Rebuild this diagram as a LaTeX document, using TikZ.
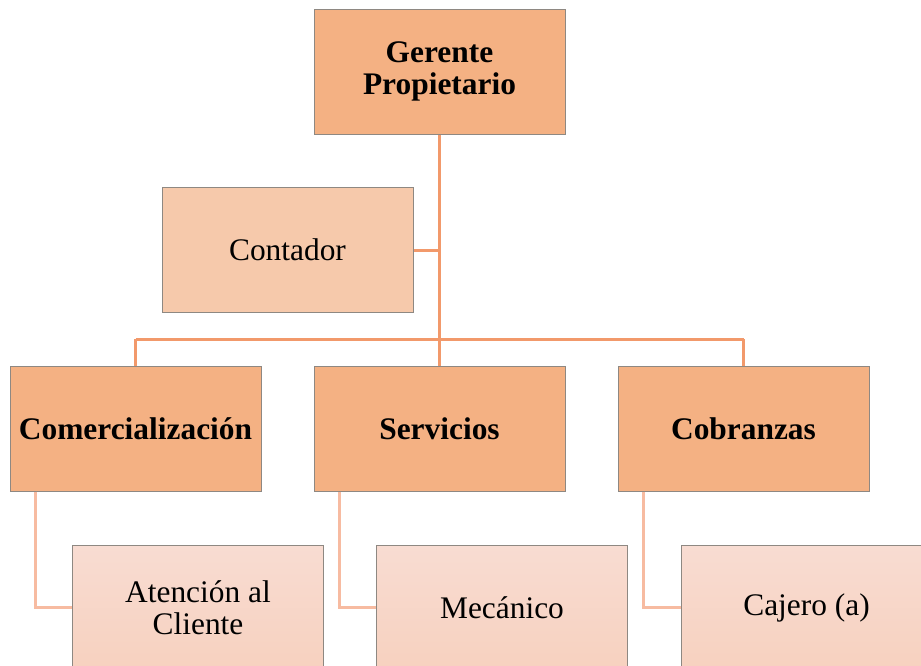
\documentclass[tikz,border=0pt]{standalone}
\usepackage{fontspec}
\setmainfont{Liberation Serif}
\usepackage{tikz}
\usetikzlibrary{calc}
\definecolor{jefe}{HTML}{F4B183}
\definecolor{staff}{HTML}{F6C9AB}
\definecolor{baseTop}{HTML}{F8DCD2}
\definecolor{baseBot}{HTML}{F7D1BF}
\definecolor{lineaA}{HTML}{F2996B}
\definecolor{lineaB}{HTML}{F7BBA1}
\definecolor{borde}{HTML}{8E8882}

\begin{document}
\begin{tikzpicture}[x=0.5pt, y=-0.5pt,
	caja/.style={draw=borde, line width=0.5pt, minimum width=125.5pt, minimum height=62.5pt,
		align=center, inner sep=2pt, font=\fontsize{15.7}{16}\selectfont},
	jefecaja/.style={caja, fill=jefe, font=\fontsize{15.7}{16}\selectfont\bfseries},
	staffcaja/.style={caja, fill=staff},
	basecaja/.style={caja, top color=baseTop, bottom color=baseBot},
	conA/.style={draw=lineaA, line width=1.5pt},
	conB/.style={draw=lineaB, line width=1.5pt}]
	\useasboundingbox (0,0) rectangle (921,665);
%	niveles
	\coordinate (bus) at (440,339);
	\node[jefecaja] (ger) at (439.5,71.5) {Gerente\\Propietario};
	\node[staffcaja] (cont) at (287.5,250) {Contador};
	\node[jefecaja] (com) at (135.5,428.5) {Comercializaci\'on};
	\node[jefecaja] (serv) at (439.5,428.5) {Servicios};
	\node[jefecaja] (cob) at (743.5,428.5) {Cobranzas};
	\node[basecaja] (aten) at (198,607.5) {Atenci\'on al\\Cliente};
	\node[basecaja] (mec) at (502,607.5) {Mec\'anico};
	\node[basecaja] (caj) at (806.5,607.5) {Cajero (a)};
%	conectores
	\draw[conA] (ger.south) -- (serv.north);
	\draw[conA] (cont.east) -- (cont.east -| ger.south);
	\draw[conA] (com.north |- bus) -- (cob.north |- bus);
	\draw[conA] (com.north |- bus) -- (com.north);
	\draw[conA] (cob.north |- bus) -- (cob.north);
	\draw[conB] ([xshift=13pt]com.south west) |- (aten.west);
	\draw[conB] ([xshift=13pt]serv.south west) |- (mec.west);
	\draw[conB] ([xshift=13pt]cob.south west) |- (caj.west);

\end{tikzpicture}
\end{document}
